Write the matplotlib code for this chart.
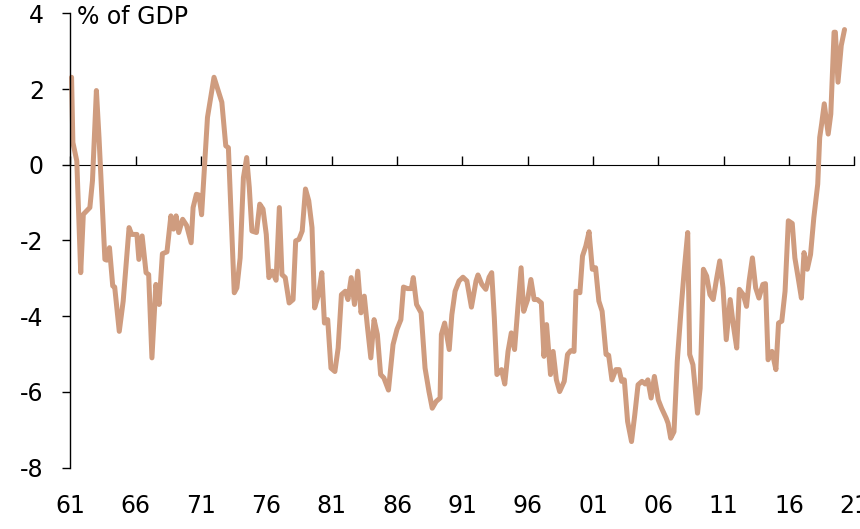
import numpy as np
import matplotlib.pyplot as plt

# current account balance, % of GDP, traced turning points (decimal years)
years = [1961.1, 1961.2, 1961.5, 1961.8, 1962.0, 1962.5, 1962.7, 1963.0, 1963.2, 1963.65,
         1963.8, 1964.0, 1964.25, 1964.4, 1964.75, 1965.05, 1965.5, 1965.7, 1966.1, 1966.25,
         1966.5, 1966.8, 1967.0, 1967.25, 1967.55, 1967.8, 1968.05, 1968.4, 1968.7, 1968.9,
         1969.1, 1969.3, 1969.6, 1969.9, 1970.25, 1970.4, 1970.65, 1970.85, 1971.05, 1971.5,
         1972.0, 1972.6, 1972.9, 1973.1, 1973.55, 1973.75, 1974.0, 1974.25, 1974.5, 1974.7,
         1974.9, 1975.25, 1975.5, 1975.75, 1976.0, 1976.2, 1976.45, 1976.75, 1977.0, 1977.2,
         1977.45, 1977.75, 1978.05, 1978.25, 1978.5, 1978.75, 1979.0, 1979.25, 1979.5, 1979.7,
         1980.0, 1980.25, 1980.45, 1980.7, 1980.95, 1981.25, 1981.5, 1981.75, 1982.05, 1982.25,
         1982.5, 1982.75, 1983.0, 1983.25, 1983.5, 1983.75, 1984.0, 1984.25, 1984.5, 1984.75,
         1985.0, 1985.35, 1985.7, 1986.0, 1986.3, 1986.5, 1986.8, 1987.1, 1987.25, 1987.5,
         1987.85, 1988.15, 1988.45, 1988.7, 1989.0, 1989.3, 1989.4, 1989.65, 1990.0, 1990.2,
         1990.45, 1990.75, 1991.05, 1991.35, 1991.7, 1992.05, 1992.2, 1992.5, 1992.8, 1993.05,
         1993.25, 1993.45, 1993.65, 1994.0, 1994.25, 1994.5, 1994.75, 1995.0, 1995.25, 1995.5,
         1995.7, 1996.0, 1996.25, 1996.5, 1996.75, 1997.05, 1997.25, 1997.45, 1997.75, 1997.95,
         1998.2, 1998.45, 1998.8, 1999.05, 1999.3, 1999.55, 1999.7, 2000.0, 2000.2, 2000.45,
         2000.7, 2000.95, 2001.2, 2001.45, 2001.7, 2002.0, 2002.2, 2002.45, 2002.75, 2003.0,
         2003.2, 2003.4, 2003.65, 2003.95, 2004.2, 2004.45, 2004.75, 2005.0, 2005.2, 2005.45,
         2005.7, 2006.0, 2006.25, 2006.6, 2006.75, 2006.95, 2007.2, 2007.45, 2007.75, 2008.0,
         2008.25, 2008.4, 2008.65, 2009.0, 2009.2, 2009.45, 2009.7, 2009.95, 2010.2, 2010.45,
         2010.7, 2010.95, 2011.2, 2011.5, 2011.75, 2012.0, 2012.2, 2012.5, 2012.75, 2012.95,
         2013.2, 2013.45, 2013.7, 2014.0, 2014.2, 2014.4, 2014.7, 2015.0, 2015.2, 2015.45,
         2015.7, 2015.95, 2016.25, 2016.45, 2016.7, 2016.95, 2017.15, 2017.4, 2017.65, 2017.9,
         2018.2, 2018.35, 2018.5, 2018.7, 2019.0, 2019.2, 2019.45, 2019.55, 2019.75, 2020.0,
         2020.25]
balance = [2.31, 0.59, 0.10, -2.85, -1.31, -1.13, -0.42, 1.96, 0.72, -2.50,
           -2.52, -2.19, -3.20, -3.23, -4.40, -3.60, -1.66, -1.84, -1.84, -2.50,
           -1.88, -2.85, -2.90, -5.10, -3.16, -3.69, -2.35, -2.30, -1.35, -1.70,
           -1.35, -1.79, -1.44, -1.60, -2.06, -1.13, -0.78, -0.80, -1.32, 1.25,
           2.31, 1.65, 0.50, 0.45, -3.38, -3.25, -2.46, -0.34, 0.19, -0.60,
           -1.75, -1.79, -1.04, -1.17, -1.84, -2.98, -2.81, -3.05, -1.13, -2.90,
           -2.98, -3.65, -3.56, -2.01, -1.97, -1.75, -0.64, -0.95, -1.66, -3.78,
           -3.43, -2.85, -4.18, -4.09, -5.37, -5.46, -4.84, -3.43, -3.34, -3.56,
           -2.98, -3.69, -2.81, -3.91, -3.47, -4.31, -5.10, -4.09, -4.48, -5.54,
           -5.63, -5.95, -4.75, -4.35, -4.09, -3.23, -3.27, -3.27, -2.98, -3.69,
           -3.91, -5.37, -5.99, -6.43, -6.25, -6.16, -4.48, -4.18, -4.88, -3.96,
           -3.34, -3.07, -2.97, -3.07, -3.76, -3.07, -2.91, -3.16, -3.29, -2.97,
           -2.85, -4.04, -5.54, -5.41, -5.79, -4.93, -4.44, -4.88, -3.78, -2.72,
           -3.87, -3.56, -3.03, -3.56, -3.56, -3.65, -5.06, -4.22, -5.54, -4.93,
           -5.68, -5.99, -5.72, -5.01, -4.91, -4.93, -3.34, -3.38, -2.41, -2.15,
           -1.77, -2.76, -2.72, -3.60, -3.87, -5.01, -5.03, -5.68, -5.41, -5.41,
           -5.72, -5.68, -6.78, -7.31, -6.60, -5.81, -5.72, -5.79, -5.68, -6.16,
           -5.59, -6.21, -6.43, -6.69, -6.83, -7.22, -7.05, -5.19, -3.78, -2.72,
           -1.79, -5.01, -5.28, -6.56, -5.90, -2.76, -2.94, -3.43, -3.56, -3.03,
           -2.54, -3.25, -4.62, -3.56, -4.26, -4.84, -3.29, -3.43, -3.74, -3.07,
           -2.46, -3.25, -3.52, -3.16, -3.14, -5.15, -4.93, -5.41, -4.18, -4.13,
           -3.34, -1.48, -1.55, -2.46, -2.98, -3.52, -2.32, -2.76, -2.37, -1.40,
           -0.51, 0.72, 1.08, 1.61, 0.81, 1.34, 3.50, 3.50, 2.18, 3.15,
           3.57]

xticks = np.arange(1961, 2022, 5)
xlabels = ['61', '66', '71', '76', '81', '86', '91', '96', '01', '06', '11', '16', '21']
yticks = [-8, -6, -4, -2, 0, 2, 4]

plt.rcParams['font.family'] = ['DejaVu Sans']

fig = plt.figure(figsize=(8.6, 5.29), dpi=100)
ax = fig.add_axes([0.0817, 0.1159, 0.9117, 0.859])

ax.plot(years, balance, color='#CF9C7F', linewidth=3.6, solid_joinstyle='round',
        solid_capstyle='round', clip_on=False)

ax.set_xlim(1961, 2021)
ax.set_ylim(-8, 4)

for s in ['top', 'right', 'bottom']:
    ax.spines[s].set_visible(False)
ax.spines['left'].set_linewidth(1)

ax.set_yticks(yticks)
ax.set_yticklabels([str(v) for v in yticks])
ax.tick_params(axis='y', direction='out', length=6, width=1, pad=13, labelsize=17)

ax.set_xticks(xticks)
ax.set_xticklabels(xlabels)
ax.tick_params(axis='x', length=0, pad=19, labelsize=17)

# zero line with its tick marks
zero = ax.secondary_xaxis(2 / 3)
zero.set_xticks(xticks)
zero.set_xticklabels([])
zero.tick_params(direction='out', length=6.5, width=1)
zero.spines['bottom'].set_linewidth(1)

fig.text(77 / 860, 1 - 5 / 529, '% of GDP', fontsize=17, va='top', ha='left')

fig.savefig('out.png', dpi=100)
